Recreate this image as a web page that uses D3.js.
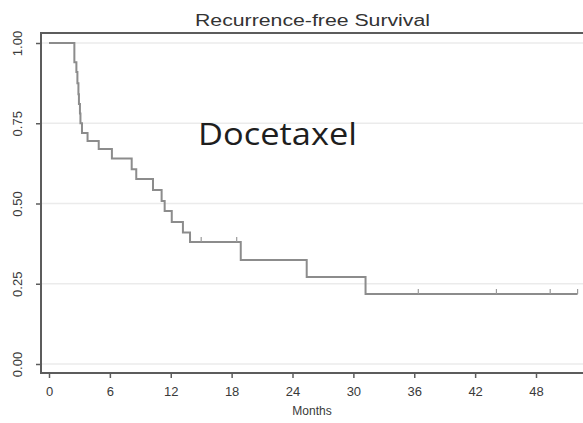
<!DOCTYPE html>
<html>
<head>
<meta charset="utf-8">
<script src="https://cdn.jsdelivr.net/npm/d3@7"></script>
<style>
  html, body { margin: 0; padding: 0; background: #fff; }
  svg { display: block; }
  .axis text { font-family: "Liberation Sans", Arial, sans-serif; fill: #3a3a3a; }
</style>
</head>
<body>
<div id="chart"></div>
<script>
// ============================================
// DATA
// ============================================

const eventMonths = [2.5, 2.7, 2.8, 2.9, 2.95, 3.05, 3.1, 3.25, 3.8, 4.9, 6.2,
                     8.15, 8.6, 10.25, 11.1, 11.4, 12.1, 13.2, 13.9, 18.9, 25.4, 31.2];
const survival    = [0.94, 0.91, 0.875, 0.84, 0.81, 0.78, 0.75, 0.72, 0.695, 0.67, 0.64,
                     0.607, 0.576, 0.542, 0.508, 0.477, 0.442, 0.41, 0.38, 0.324, 0.271, 0.218];
const censorMonths = [15.0, 18.5, 36.4, 44.1, 49.4, 52.1];
const lastFollowUp = 52.1;

const xTicks = [0, 6, 12, 18, 24, 30, 36, 42, 48];
const yTicks = [0, 0.25, 0.5, 0.75, 1];

const title = 'Recurrence-free Survival';
const xLabel = 'Months';
const drugLabel = 'Docetaxel';

// ============================================
// DIMENSIONS & SCALES
// ============================================

const W = 583, H = 423;
const frame = { left: 41, top: 33, bottom: 373, right: 600 };

const x = d3.scaleLinear().domain([0, 48]).range([49, 536]);
const y = d3.scaleLinear().domain([0, 1]).range([364, 43]);

const svg = d3.select('#chart').append('svg')
  .attr('width', W)
  .attr('height', H);

// gridlines
svg.append('g')
  .selectAll('line')
  .data(yTicks)
  .join('line')
  .attr('x1', frame.left)
  .attr('x2', frame.right)
  .attr('y1', d => y(d))
  .attr('y2', d => y(d))
  .attr('stroke', '#ebebeb')
  .attr('stroke-width', 1.5);

// frame (left, top, bottom; right side runs off the picture)
svg.append('path')
  .attr('d', `M${frame.right},${frame.top}H${frame.left}V${frame.bottom}H${frame.right}`)
  .attr('fill', 'none')
  .attr('stroke', '#5c5c5c')
  .attr('stroke-width', 2);

// ============================================
// AXES
// ============================================

const xAxis = svg.append('g')
  .attr('class', 'axis')
  .attr('transform', `translate(0,${frame.bottom})`)
  .call(d3.axisBottom(x).tickValues(xTicks).tickSize(5).tickPadding(9));
xAxis.select('.domain').remove();
xAxis.selectAll('line').attr('stroke', '#5c5c5c').attr('stroke-width', 1.5);
xAxis.selectAll('text').attr('font-size', 13);

const yAxis = svg.append('g')
  .attr('class', 'axis')
  .attr('transform', `translate(${frame.left},0)`)
  .call(d3.axisLeft(y).tickValues(yTicks).tickFormat(d3.format('.2f')).tickSize(5));
yAxis.select('.domain').remove();
yAxis.selectAll('line').attr('stroke', '#5c5c5c').attr('stroke-width', 1.5);
yAxis.selectAll('text')
  .attr('font-size', 13)
  .attr('text-anchor', 'middle')
  .attr('x', 0)
  .attr('y', -19)
  .attr('dy', null)
  .attr('transform', 'rotate(-90)');

svg.append('text')
  .attr('x', 312)
  .attr('y', 415)
  .attr('text-anchor', 'middle')
  .attr('font-family', '"Liberation Sans", Arial, sans-serif')
  .attr('font-size', 12)
  .attr('fill', '#3a3a3a')
  .text(xLabel);

svg.append('text')
  .attr('x', 195)
  .attr('y', 26)
  .attr('textLength', 235)
  .attr('lengthAdjust', 'spacingAndGlyphs')
  .attr('font-family', '"Liberation Sans", Arial, sans-serif')
  .attr('font-size', 16)
  .attr('fill', '#333')
  .text(title);

// ============================================
// SURVIVAL CURVE
// ============================================

const points = [{ t: 0, s: 1 }]
  .concat(eventMonths.map((t, i) => ({ t, s: survival[i] })))
  .concat([{ t: lastFollowUp, s: survival[survival.length - 1] }]);

const line = d3.line()
  .x(d => x(d.t))
  .y(d => y(d.s))
  .curve(d3.curveStepAfter);

svg.append('path')
  .datum(points)
  .attr('d', line)
  .attr('fill', 'none')
  .attr('stroke', '#8c8c8c')
  .attr('stroke-width', 2);

// step value at a given time
function survivalAt(t) {
  let s = 1;
  eventMonths.forEach((e, i) => { if (e <= t) s = survival[i]; });
  return s;
}

svg.append('g')
  .selectAll('line')
  .data(censorMonths)
  .join('line')
  .attr('x1', d => x(d))
  .attr('x2', d => x(d))
  .attr('y1', d => y(survivalAt(d)))
  .attr('y2', d => y(survivalAt(d)) - 5)
  .attr('stroke', '#9a9a9a')
  .attr('stroke-width', 1.2);

// ============================================
// DRUG LABEL
// ============================================

svg.append('text')
  .attr('x', 198)
  .attr('y', 145)
  .attr('textLength', 159)
  .attr('lengthAdjust', 'spacingAndGlyphs')
  .attr('font-family', '"Open Sans", sans-serif')
  .attr('font-size', 31)
  .attr('fill', '#1e1e1e')
  .text(drugLabel);
</script>
</body>
</html>
